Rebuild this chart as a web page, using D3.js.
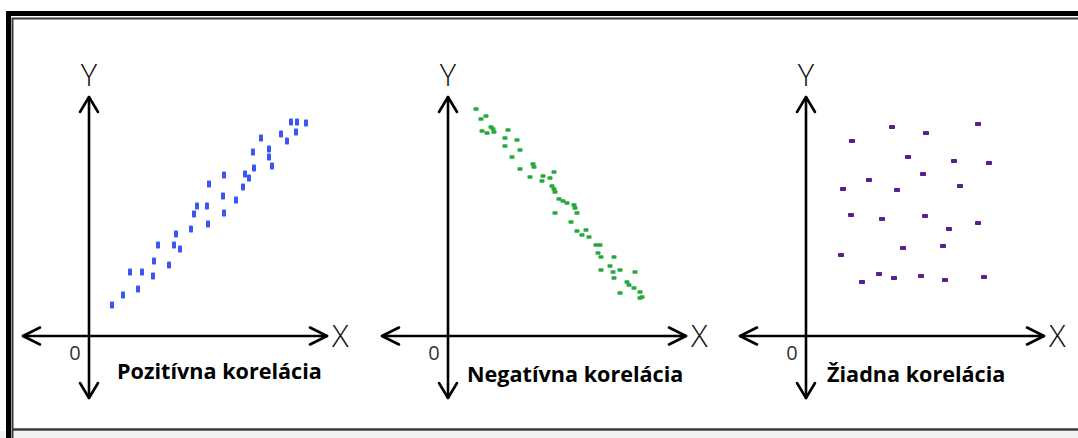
<!DOCTYPE html>
<html lang="sk">
  <head>
    <meta charset="utf-8">
    <title>Korelácia</title>
    <script src="https://d3js.org/d3.v7.min.js"></script>
    <style>
      body { margin: 0; background: #fff; }
      .lbl { font-family: "Open Sans", sans-serif; font-weight: 700; fill: #000; }
      .axlbl { font-family: "Open Sans", sans-serif; font-weight: 300; fill: #111; }
      .zero { font-family: "Open Sans", sans-serif; fill: #333; }
    </style>
  </head>
  <body>
    <script>
      // panel titles
      var titles = ["Pozitívna korelácia", "Negatívna korelácia", "Žiadna korelácia"];

      // scatter values (units along each panel's axes)
      var positiveX = [2.3, 3.4, 4.9, 4.1, 5.3, 6.4, 6.5, 8.0, 6.9, 8.5, 9.1, 8.7, 10.2, 11.9, 10.5, 10.8, 11.8, 13.5, 13.4, 14.7, 12.0, 13.5, 15.4, 15.6, 16.0, 16.5, 16.4, 17.2, 18.0, 18.0, 18.3, 19.2, 19.8, 20.2, 20.8, 20.7, 21.7];
      var positiveY = [3.1, 4.1, 4.7, 6.4, 6.4, 6.0, 7.5, 7.1, 9.1, 9.1, 8.7, 10.2, 10.7, 11.2, 12.2, 13.0, 13.0, 12.3, 14.0, 13.6, 15.2, 16.1, 14.9, 16.2, 15.8, 16.8, 18.4, 19.8, 18.7, 17.9, 17.0, 20.2, 19.5, 21.4, 21.4, 20.4, 21.3];

      var negativeX = [2.8, 3.8, 3.3, 3.4, 3.9, 4.3, 4.5, 4.6, 6.0, 5.7, 6.9, 5.7, 7.2, 6.4, 7.2, 8.5, 8.6, 8.2, 9.5, 9.4, 10.6, 10.2, 10.4, 10.6, 10.7, 11.1, 11.5, 11.9, 12.6, 12.7, 12.9, 10.7, 12.3, 12.9, 13.8, 13.4, 14.1, 14.8, 15.2, 15.0, 15.3, 16.6, 15.3, 16.2, 16.5, 17.2, 16.6, 18.7, 17.9, 18.1, 18.6, 19.2, 17.2, 19.2, 19.4];
      var negativeY = [22.7, 22.0, 21.7, 20.5, 20.3, 20.9, 20.7, 20.4, 20.6, 19.8, 19.6, 19.0, 18.6, 17.9, 16.7, 17.2, 16.9, 15.9, 16.0, 15.5, 16.4, 15.8, 15.0, 14.7, 14.4, 13.7, 13.5, 13.3, 13.1, 12.8, 12.3, 12.3, 11.4, 10.5, 10.6, 10.1, 9.9, 9.1, 9.1, 8.3, 7.9, 7.9, 6.6, 7.0, 6.4, 6.6, 5.8, 6.4, 5.4, 5.1, 4.8, 4.4, 4.3, 3.8, 3.9];

      var noneX = [8.6, 12.0, 17.2, 4.6, 10.2, 14.8, 18.3, 11.7, 6.3, 3.7, 9.1, 15.4, 4.5, 7.6, 11.9, 14.3, 17.2, 9.7, 13.7, 3.5, 7.3, 5.6, 8.8, 11.5, 13.9, 17.8];
      var noneY = [20.9, 20.3, 21.2, 19.5, 17.9, 17.5, 17.3, 16.2, 15.6, 14.7, 14.6, 15.0, 12.1, 11.7, 12.0, 10.7, 11.3, 8.8, 9.0, 8.1, 6.2, 5.4, 5.8, 6.0, 5.6, 5.9];

      var width = 1078, height = 438;

      var svg = d3.select("body").append("svg")
                  .attr("width", width)
                  .attr("height", height);

      // frame
      svg.append("rect").attr("x", 0).attr("y", 431).attr("width", width).attr("height", 7).attr("fill", "#f2f2f2");
      svg.append("path")
         .attr("d", "M8.5,438 V13.5 H1090")
         .attr("fill", "none").attr("stroke", "#000").attr("stroke-width", 5);
      svg.append("path")
         .attr("d", "M12.5,438 V18.5 H1090")
         .attr("fill", "none").attr("stroke", "#3a3a3a").attr("stroke-width", 2);
      svg.append("line")
         .attr("x1", 12).attr("x2", width).attr("y1", 429.5).attr("y2", 429.5)
         .attr("stroke", "#3a3a3a").attr("stroke-width", 2.5);

      var panels = [
        {ox: 89, title: titles[0], tx: 28, ty: 43, xs: positiveX, ys: positiveY, color: "#3b55f3", w: 4, h: 7},
        {ox: 448, title: titles[1], tx: 19, ty: 46, xs: negativeX, ys: negativeY, color: "#23a83b", w: 5, h: 3.5},
        {ox: 806, title: titles[2], tx: 21, ty: 46, xs: noneX, ys: noneY, color: "#57208f", w: 6, h: 4}
      ];
      var oy = 336;

      // axis extents in data units
      var xMin = -6.6, xMax = 23.8, yMin = -6.2, yMax = 23.9;

      panels.forEach(function(p) {
        var x = d3.scaleLinear().domain([0, 24]).range([p.ox, p.ox + 240]);
        var y = d3.scaleLinear().domain([0, 24]).range([oy, oy - 240]);
        var g = svg.append("g");

        var ax = g.append("g")
                  .attr("fill", "none")
                  .attr("stroke", "#000")
                  .attr("stroke-width", 2.6)
                  .attr("stroke-linecap", "round")
                  .attr("stroke-linejoin", "round");

        // horizontal axis with arrowheads
        ax.append("path").attr("d", "M" + x(xMin) + "," + y(0) + "H" + x(xMax));
        ax.append("path").attr("d", "M" + (x(xMin) + 17) + "," + (y(0) - 8.5) + "L" + x(xMin) + "," + y(0) + "L" + (x(xMin) + 17) + "," + (y(0) + 8.5));
        ax.append("path").attr("d", "M" + (x(xMax) - 17) + "," + (y(0) - 8.5) + "L" + x(xMax) + "," + y(0) + "L" + (x(xMax) - 17) + "," + (y(0) + 8.5));
        // vertical axis with arrowheads
        ax.append("path").attr("d", "M" + x(0) + "," + y(yMin) + "V" + y(yMax));
        ax.append("path").attr("d", "M" + (x(0) - 9) + "," + (y(yMax) + 15) + "L" + x(0) + "," + y(yMax) + "L" + (x(0) + 9) + "," + (y(yMax) + 15));
        ax.append("path").attr("d", "M" + (x(0) - 9) + "," + (y(yMin) - 15) + "L" + x(0) + "," + y(yMin) + "L" + (x(0) + 9) + "," + (y(yMin) - 15));

        g.append("text").attr("class", "axlbl")
         .attr("x", x(0)).attr("y", y(yMax) - 11)
         .attr("text-anchor", "middle").attr("font-size", 31)
         .text("Y");
        g.append("text").attr("class", "axlbl")
         .attr("x", x(xMax) + 5).attr("y", y(0) + 11)
         .attr("font-size", 31)
         .text("X");
        g.append("text").attr("class", "zero")
         .attr("x", x(0) - 14).attr("y", y(0) + 24)
         .attr("text-anchor", "middle").attr("font-size", 20)
         .text("0");
        g.append("text").attr("class", "lbl")
         .attr("x", x(0) + p.tx).attr("y", y(0) + p.ty)
         .attr("font-size", 21.6)
         .text(p.title);

        g.selectAll("rect.pt")
         .data(d3.zip(p.xs, p.ys))
         .join("rect")
           .attr("class", "pt")
           .attr("x", function(d) { return x(d[0]) - p.w / 2; })
           .attr("y", function(d) { return y(d[1]) - p.h / 2; })
           .attr("width", p.w)
           .attr("height", p.h)
           .attr("rx", 0.8)
           .attr("fill", p.color);
      });
    </script>
  </body>
</html>
